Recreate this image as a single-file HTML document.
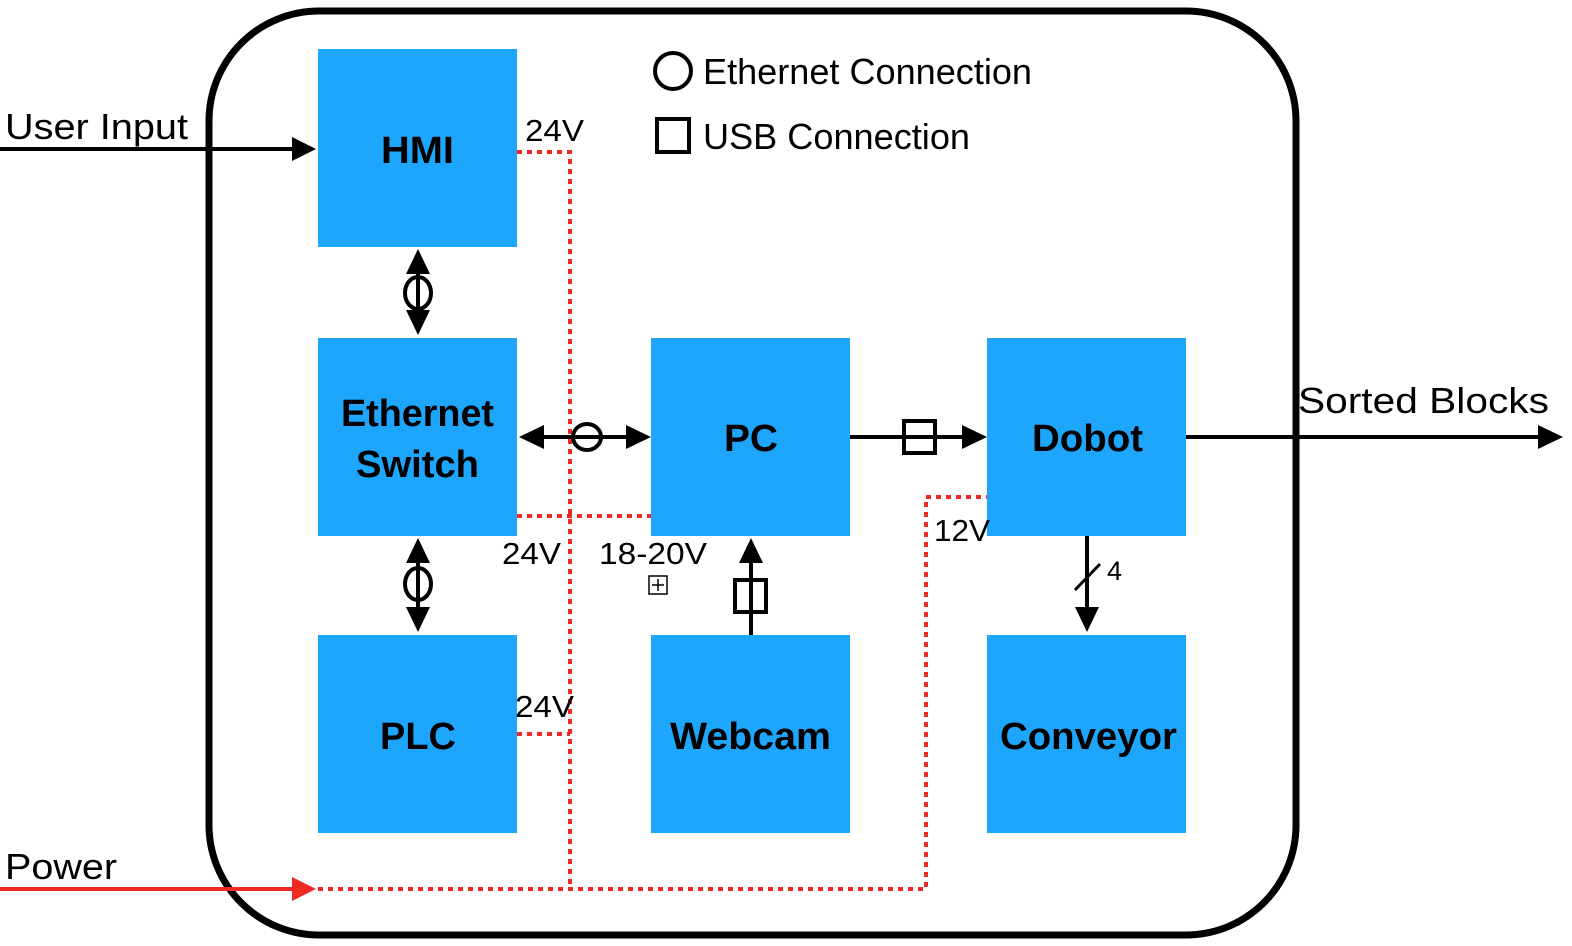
<!DOCTYPE html>
<html><head><style>body{margin:0;background:#fff}svg{display:block}text{font-family:"Liberation Sans",Arial,sans-serif}</style></head><body>
<svg width="1572" height="946" viewBox="0 0 1572 946" xmlns="http://www.w3.org/2000/svg">
<rect x="209" y="11" width="1087" height="924" rx="110" fill="none" stroke="#000" stroke-width="7"/>
<g fill="#1ea5fc">
<rect x="318" y="49" width="199" height="198"/>
<rect x="318" y="338" width="199" height="198"/>
<rect x="318" y="635" width="199" height="198"/>
<rect x="651" y="338" width="199" height="198"/>
<rect x="651" y="635" width="199" height="198"/>
<rect x="987" y="338" width="199" height="198"/>
<rect x="987" y="635" width="199" height="198"/>
</g>
<g font-weight="bold" font-size="38" fill="#000">
<text x="381" y="163" textLength="73" lengthAdjust="spacingAndGlyphs">HMI</text>
<text x="341" y="426" textLength="153" lengthAdjust="spacingAndGlyphs">Ethernet</text>
<text x="356" y="477" textLength="123" lengthAdjust="spacingAndGlyphs">Switch</text>
<text x="380" y="749" textLength="76" lengthAdjust="spacingAndGlyphs">PLC</text>
<text x="724" y="451" textLength="54" lengthAdjust="spacingAndGlyphs">PC</text>
<text x="670" y="749" textLength="161" lengthAdjust="spacingAndGlyphs">Webcam</text>
<text x="1032" y="451" textLength="111" lengthAdjust="spacingAndGlyphs">Dobot</text>
<text x="1000" y="749" textLength="177" lengthAdjust="spacingAndGlyphs">Conveyor</text>
</g>
<g fill="none" stroke="#ee2a24" stroke-width="4" stroke-dasharray="5 5">
<path d="M517,152 H570 V889"/>
<path d="M517,516 H651"/>
<path d="M517,734 H570"/>
<path d="M318,889 H926 V497 H987"/>
</g>
<line x1="0" y1="889" x2="296" y2="889" stroke="#ee2a24" stroke-width="4"/>
<path d="M292,877 L316,889 L292,901z" fill="#ee2a24"/>
<g stroke="#000" stroke-width="4" fill="none">
<line x1="0" y1="149" x2="296" y2="149"/>
<line x1="418" y1="270" x2="418" y2="316"/>
<line x1="418" y1="560" x2="418" y2="612"/>
<line x1="540" y1="437" x2="630" y2="437"/>
<line x1="850" y1="437" x2="966" y2="437"/>
<line x1="751" y1="558" x2="751" y2="635"/>
<line x1="1186" y1="437" x2="1542" y2="437"/>
<line x1="1087" y1="536" x2="1087" y2="612"/>
<line x1="1075" y1="590" x2="1100" y2="564" stroke-width="3"/>
<ellipse cx="418" cy="293" rx="13" ry="16"/>
<ellipse cx="418" cy="584" rx="13" ry="16"/>
<ellipse cx="587" cy="437" rx="14" ry="13"/>
<rect x="904" y="421" width="31" height="32"/>
<rect x="735" y="580" width="31" height="32"/>
<circle cx="673" cy="71" r="18"/>
<rect x="657" y="119" width="32" height="33"/>
</g>
<g fill="#000">
<path d="M292,137 L316,149 L292,161z"/>
<path d="M406,274 L418,249 L430,274z"/>
<path d="M406,310 L418,335 L430,310z"/>
<path d="M406,563 L418,538 L430,563z"/>
<path d="M406,607 L418,632 L430,607z"/>
<path d="M544,425 L519,437 L544,449z"/>
<path d="M626,425 L651,437 L626,449z"/>
<path d="M962,425 L987,437 L962,449z"/>
<path d="M739,563 L751,538 L763,563z"/>
<path d="M1538,425 L1563,437 L1538,449z"/>
<path d="M1075,607 L1087,632 L1099,607z"/>
</g>
<rect x="649" y="576" width="18" height="18" fill="none" stroke="#000" stroke-width="1.5"/>
<path d="M658,579 V591 M652,585 H664" stroke="#000" stroke-width="1.5"/>
<g font-size="36" fill="#000">
<text x="5" y="139" textLength="183" lengthAdjust="spacingAndGlyphs">User Input</text>
<text x="5" y="879" textLength="112" lengthAdjust="spacingAndGlyphs">Power</text>
<text x="1298" y="413" textLength="251" lengthAdjust="spacingAndGlyphs">Sorted Blocks</text>
<text x="703" y="84" textLength="329" lengthAdjust="spacingAndGlyphs">Ethernet Connection</text>
<text x="703" y="149" textLength="267" lengthAdjust="spacingAndGlyphs">USB Connection</text>
</g>
<g font-size="31" fill="#000">
<text x="525" y="141" textLength="59" lengthAdjust="spacingAndGlyphs">24V</text>
<text x="502" y="564" textLength="59" lengthAdjust="spacingAndGlyphs">24V</text>
<text x="599" y="564" textLength="108" lengthAdjust="spacingAndGlyphs">18-20V</text>
<text x="515" y="717" textLength="59" lengthAdjust="spacingAndGlyphs">24V</text>
<text x="934" y="541" textLength="56" lengthAdjust="spacingAndGlyphs">12V</text>
<text x="1107" y="580" font-size="27">4</text>
</g>
</svg>
</body></html>
